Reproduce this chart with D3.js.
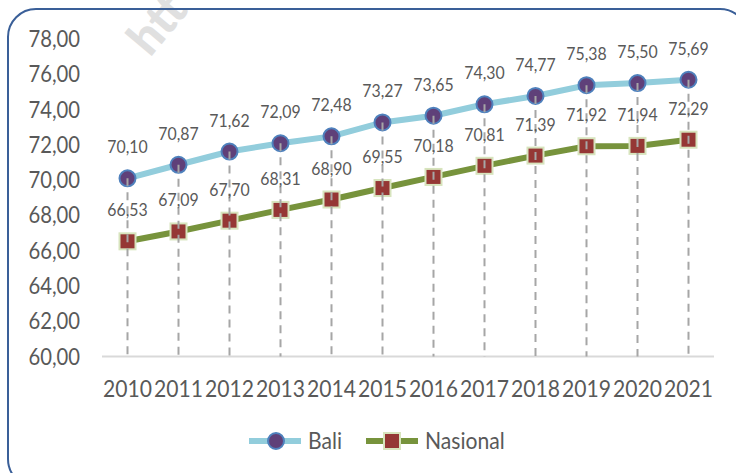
<!DOCTYPE html>
<html>
<head>
<meta charset="utf-8">
<script src="https://cdn.jsdelivr.net/npm/d3@7"></script>
<style>
  body { margin: 0; background: #fff; }
  svg text { font-family: Lato, "Noto Sans", sans-serif; fill: #595959; }
</style>
</head>
<body>
<svg id="chart" width="736" height="473"></svg>
<script>
// data
var years = ["2010","2011","2012","2013","2014","2015","2016","2017","2018","2019","2020","2021"];
var bali = [70.10, 70.87, 71.62, 72.09, 72.48, 73.27, 73.65, 74.30, 74.77, 75.38, 75.50, 75.69];
var nasional = [66.53, 67.09, 67.70, 68.31, 68.90, 69.55, 70.18, 70.81, 71.39, 71.92, 71.94, 72.29];
var yTicks = [60, 62, 64, 66, 68, 70, 72, 74, 76, 78];

var fmt = function(v){ return v.toFixed(2).replace(".", ","); };
var sx = 0.88; // squeeze text a bit, calibri is narrow

var svg = d3.select("#chart");

// watermark, mostly cut off at the top
svg.append("text")
  .attr("transform", "translate(150,58) rotate(-50)")
  .style("font-size", "48px").style("font-weight", "900")
  .style("fill", "#e0e0e0")
  .text("htt");

// rounded frame
svg.append("rect")
  .attr("x", 8).attr("y", 9)
  .attr("width", 740).attr("height", 478)
  .attr("rx", 28).attr("ry", 28)
  .attr("fill", "none")
  .attr("stroke", "#3a5f98").attr("stroke-width", 2);

var x = d3.scaleBand().domain(years).range([102, 714]);
var y = d3.scaleLinear().domain([60, 78]).range([356.5, 39]);
var cx = function(d){ return x(d) + x.bandwidth() / 2; };

// y labels
svg.append("g").selectAll("text")
  .data(yTicks).join("text")
  .attr("transform", function(d){ return "translate(80," + (y(d) + 8) + ") scale(" + sx + ",1)"; })
  .attr("text-anchor", "end")
  .style("font-size", "23px")
  .text(fmt);

// x axis line + labels
svg.append("line")
  .attr("x1", 102).attr("x2", 714)
  .attr("y1", y(60)).attr("y2", y(60))
  .attr("stroke", "#d9d9d9").attr("stroke-width", 2);

svg.append("g").selectAll("text")
  .data(years).join("text")
  .attr("transform", function(d){ return "translate(" + cx(d) + ",397) scale(" + sx + ",1)"; })
  .attr("text-anchor", "middle")
  .style("font-size", "24px")
  .text(function(d){ return d; });

var line = d3.line()
  .x(function(d, i){ return cx(years[i]); })
  .y(function(d){ return y(d); });

svg.append("path").datum(bali)
  .attr("d", line).attr("fill", "none")
  .attr("stroke", "#92cddc").attr("stroke-width", 6);

svg.append("path").datum(nasional)
  .attr("d", line).attr("fill", "none")
  .attr("stroke", "#77933c").attr("stroke-width", 6);

svg.append("g").selectAll("circle")
  .data(bali).join("circle")
  .attr("cx", function(d, i){ return cx(years[i]); })
  .attr("cy", function(d){ return y(d); })
  .attr("r", 8)
  .attr("fill", "#5f4079").attr("stroke", "#4f81bd").attr("stroke-width", 2);

svg.append("g").selectAll("rect")
  .data(nasional).join("rect")
  .attr("x", function(d, i){ return cx(years[i]) - 8; })
  .attr("y", function(d){ return y(d) - 8; })
  .attr("width", 16).attr("height", 16)
  .attr("fill", "#953735").attr("stroke", "#d7e4bd").attr("stroke-width", 2);

// drop lines from the top series down to the axis
svg.append("g").selectAll("line")
  .data(bali).join("line")
  .attr("x1", function(d, i){ return cx(years[i]); })
  .attr("x2", function(d, i){ return cx(years[i]); })
  .attr("y1", function(d){ return y(d); })
  .attr("y2", y(60))
  .attr("stroke", "#a6a6a6").attr("stroke-width", 2)
  .attr("stroke-dasharray", "8,6");

// data labels
function labels(vals){
  svg.append("g").selectAll("text")
    .data(vals).join("text")
    .attr("transform", function(d, i){ return "translate(" + cx(years[i]) + "," + (y(d) - 25) + ") scale(" + sx + ",1)"; })
    .attr("text-anchor", "middle")
    .style("font-size", "18px")
    .text(fmt);
}
labels(bali);
labels(nasional);

// legend
var lg = svg.append("g");
lg.append("line").attr("x1", 249).attr("x2", 301).attr("y1", 441).attr("y2", 441)
  .attr("stroke", "#92cddc").attr("stroke-width", 6);
lg.append("circle").attr("cx", 276).attr("cy", 441).attr("r", 8)
  .attr("fill", "#5f4079").attr("stroke", "#4f81bd").attr("stroke-width", 2);
lg.append("text").attr("transform", "translate(308,449) scale(" + sx + ",1)")
  .style("font-size", "24px").text("Bali");
lg.append("line").attr("x1", 366).attr("x2", 418).attr("y1", 441).attr("y2", 441)
  .attr("stroke", "#77933c").attr("stroke-width", 6);
lg.append("rect").attr("x", 384).attr("y", 433).attr("width", 16).attr("height", 16)
  .attr("fill", "#953735").attr("stroke", "#d7e4bd").attr("stroke-width", 2);
lg.append("text").attr("transform", "translate(425,449) scale(" + sx + ",1)")
  .style("font-size", "24px").text("Nasional");
</script>
</body>
</html>
